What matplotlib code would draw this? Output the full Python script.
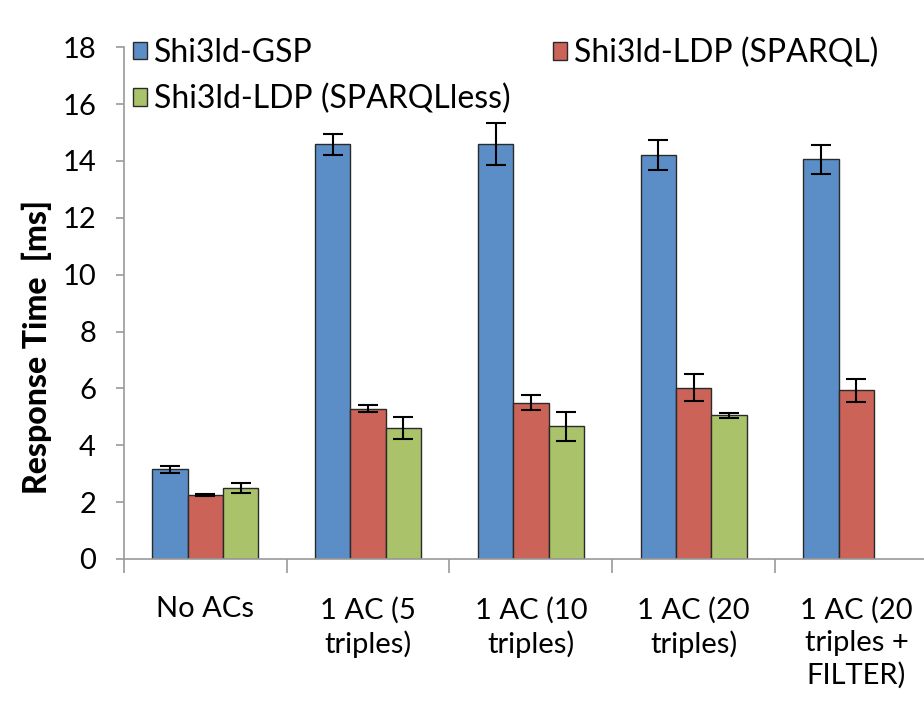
import matplotlib
matplotlib.use("Agg")
import matplotlib.pyplot as plt
import numpy as np
from matplotlib.patches import Patch

plt.rcParams.update({"font.family": ["Lato", "DejaVu Sans"], "font.size": 21})

categories = ["No ACs", "1 AC (5\ntriples)", "1 AC (10\ntriples)",
              "1 AC (20\ntriples)", "1 AC (20\ntriples +\nFILTER)"]
series = ["Shi3ld-GSP", "Shi3ld-LDP (SPARQL)", "Shi3ld-LDP (SPARQLless)"]
gsp = [3.15, 14.58, 14.6, 14.2, 14.05]
gsp_err = [0.13, 0.37, 0.75, 0.53, 0.5]
ldp_sparql = [2.25, 5.28, 5.5, 6.02, 5.93]
ldp_sparql_err = [0.04, 0.12, 0.25, 0.48, 0.4]
ldp_less = [2.5, 4.6, 4.66, 5.05, np.nan]
ldp_less_err = [0.17, 0.38, 0.5, 0.1, np.nan]
colors = ["#5B8EC6", "#CB6358", "#AAC36A"]

fig = plt.figure(figsize=(9.24, 7.04), dpi=100)
ax = fig.add_axes([0.134, 0.206, 0.881, 0.727])

x = np.arange(len(categories))
w = 0.217
for i, (vals, errs) in enumerate([(gsp, gsp_err), (ldp_sparql, ldp_sparql_err),
                                  (ldp_less, ldp_less_err)]):
    ax.bar(x + (i - 1) * w, vals, w, color=colors[i], edgecolor="#2a2a2a",
           linewidth=1.0, yerr=errs, capsize=7,
           error_kw=dict(ecolor="black", elinewidth=1.5, capthick=1.5))

ax.set_xlim(-0.5, 4.5)
ax.set_ylim(0, 18)
ax.set_yticks(np.arange(0, 19, 2))
ax.set_ylabel("Response Time  [ms]", fontsize=23, fontweight="black")
ax.yaxis.set_label_coords(-0.088, 0.414)

ax.set_xticks(np.arange(-0.5, 4.5, 1))
ax.set_xticklabels([])
ax.set_xticks(x, minor=True)
ax.set_xticklabels(categories, minor=True)
ax.tick_params(axis="x", which="major", length=10, color="#9a9a9a", width=1.2)
ax.tick_params(axis="x", which="minor", length=0, pad=27)
ax.tick_params(axis="y", length=6, color="#9a9a9a", width=1.2, pad=14)
for t in ax.get_xticklabels(minor=True):
    t.set_linespacing(1.3)

for s in ["top", "right"]:
    ax.spines[s].set_visible(False)
for s in ["left", "bottom"]:
    ax.spines[s].set_color("#9a9a9a")
    ax.spines[s].set_linewidth(1.2)

h = [Patch(facecolor=c, edgecolor="#2a2a2a", linewidth=1.0) for c in colors]
leg_kw = dict(frameon=False, fontsize=23, handlelength=0.45, handleheight=0.45,
              handletextpad=0.2, borderpad=0, borderaxespad=0, labelspacing=0.5)
leg1 = ax.legend([h[0], h[2]], [series[0], series[2]], loc="upper left",
                 bbox_to_anchor=(0.011, 1.018), **leg_kw)
ax.add_artist(leg1)
ax.legend([h[1]], [series[1]], loc="upper left", bbox_to_anchor=(0.527, 1.018),
          **leg_kw)

fig.savefig("out.png", dpi=100)
